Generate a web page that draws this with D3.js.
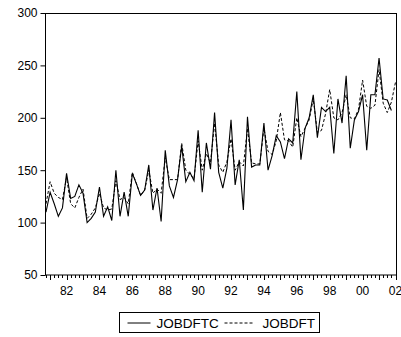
<!DOCTYPE html>
<html>
<head>
<meta charset="utf-8">
<script src="https://cdn.jsdelivr.net/npm/d3@7"></script>
<style>
  body { margin: 0; background: #fff; }
  text { font-family: "Liberation Sans", Arial, sans-serif; fill: #000; }
</style>
</head>
<body>
<div id="chart"></div>
<script>
// quarterly sample, first obs 1980Q4
var startYear = 1980, startQuarter = 4

// JOBDFTC (solid), 1980Q4 - 2001Q4
var jobdftc = [110, 129, 118, 106, 114, 147, 123, 125, 136, 128,
               100, 104, 110, 134, 106, 115, 102, 150, 106, 129,
               106, 147, 137, 126, 131, 155, 112, 133, 101, 169,
               135, 124, 141, 173, 139, 148, 140, 188, 129, 176,
               151, 205, 148, 133, 152, 198, 136, 160, 112, 201,
               153, 155, 155, 195, 150, 164, 183, 177, 161, 180,
               176, 225, 160, 190, 200, 222, 181, 210, 206, 210,
               166, 218, 195, 240, 171, 198, 206, 222, 169, 222,
               222, 257, 218, 217, 207]

// JOBDFT (dashed), 1980Q4 - 2002Q1
var jobdft = [118, 139, 128, 124, 122, 143, 118, 114, 124, 132,
              104, 108, 114, 128, 114, 112, 113, 140, 122, 124,
              118, 148, 137, 126, 131, 150, 128, 132, 128, 162,
              141, 141, 141, 176, 150, 146, 142, 178, 150, 166,
              157, 195, 155, 148, 158, 180, 150, 158, 154, 190,
              157, 156, 156, 190, 168, 165, 178, 205, 179, 178,
              172, 200, 182, 190, 198, 218, 186, 188, 204, 227,
              200, 198, 205, 222, 200, 199, 208, 236, 211, 209,
              212, 246, 214, 205, 215, 234]

var yTicks = [50, 100, 150, 200, 250, 300]
var yearLabels = [1982, 1984, 1986, 1988, 1990, 1992, 1994, 1996, 1998, 2000, 2002]
var seriesNames = ['JOBDFTC', 'JOBDFT']

// chart area
var m = {left: 45, right: 5, top: 13, bottom: 62}
var W = 401, H = 337
var w = W - m.left - m.right
var h = H - m.top - m.bottom

var svg = d3.select('#chart').append('svg')
    .attr('width', W)
    .attr('height', H)

var g = svg.append('g')
    .attr('transform', 'translate(' + m.left + ',' + m.top + ')')

// observation index -> x
var nObs = jobdft.length
var x = d3.scaleLinear().domain([0, nObs - 1]).range([1, w - 0.5])
var y = d3.scaleLinear().domain([50, 300]).range([h, 0])

function obsIndex(year, q) { return (year - startYear) * 4 + (q - startQuarter) }

// frame
g.append('rect')
    .attr('x', 0.5).attr('y', 0.5)
    .attr('width', w).attr('height', h - 0.5)
    .attr('fill', 'none')
    .attr('stroke', '#000')
    .attr('stroke-width', 1)

// y axis
var yAxis = d3.axisLeft(y).tickValues(yTicks).tickSize(5).tickPadding(3)
var ya = g.append('g').attr('transform', 'translate(0.5,0)').call(yAxis)
ya.select('.domain').remove()
ya.selectAll('text').style('font-size', '12px')

// x ticks: every quarter small, Q1 slightly longer
var quarters = d3.range(nObs)
g.append('g').selectAll('line')
    .data(quarters)
    .enter()
    .append('line')
    .attr('x1', function(d) { return Math.round(x(d)) + 0.5 })
    .attr('x2', function(d) { return Math.round(x(d)) + 0.5 })
    .attr('y1', h)
    .attr('y2', function(d) { return h + ((d - 1) % 4 == 0 ? 5 : 3) })
    .attr('stroke', '#000')

g.append('g').selectAll('text')
    .data(yearLabels)
    .enter()
    .append('text')
    .attr('x', function(d) { return x(obsIndex(d, 1)) })
    .attr('y', h + 20)
    .style('text-anchor', 'middle')
    .style('font-size', '12px')
    .text(function(d) { return String(d).slice(2) })

// series lines
var line = d3.line()
    .x(function(d, i) { return x(i) })
    .y(function(d) { return y(d) })

g.append('path')
    .datum(jobdft)
    .attr('d', line)
    .attr('fill', 'none')
    .attr('stroke', '#000')
    .attr('stroke-width', 1)
    .attr('stroke-dasharray', '3,2')

g.append('path')
    .datum(jobdftc)
    .attr('d', line)
    .attr('fill', 'none')
    .attr('stroke', '#000')
    .attr('stroke-width', 1.1)

// legend
var lg = svg.append('g').attr('transform', 'translate(119.5,312.5)')
lg.append('rect')
    .attr('width', 200).attr('height', 20)
    .attr('fill', '#fff').attr('stroke', '#000')

lg.append('line')
    .attr('x1', 8).attr('x2', 31).attr('y1', 10.5).attr('y2', 10.5)
    .attr('stroke', '#000')
lg.append('text')
    .attr('x', 37).attr('y', 15)
    .style('font-size', '13.5px')
    .text(seriesNames[0])

lg.append('line')
    .attr('x1', 105).attr('x2', 133).attr('y1', 10.5).attr('y2', 10.5)
    .attr('stroke', '#000')
    .attr('stroke-dasharray', '3,2')
lg.append('text')
    .attr('x', 143).attr('y', 15)
    .style('font-size', '13.5px')
    .text(seriesNames[1])
</script>
</body>
</html>
